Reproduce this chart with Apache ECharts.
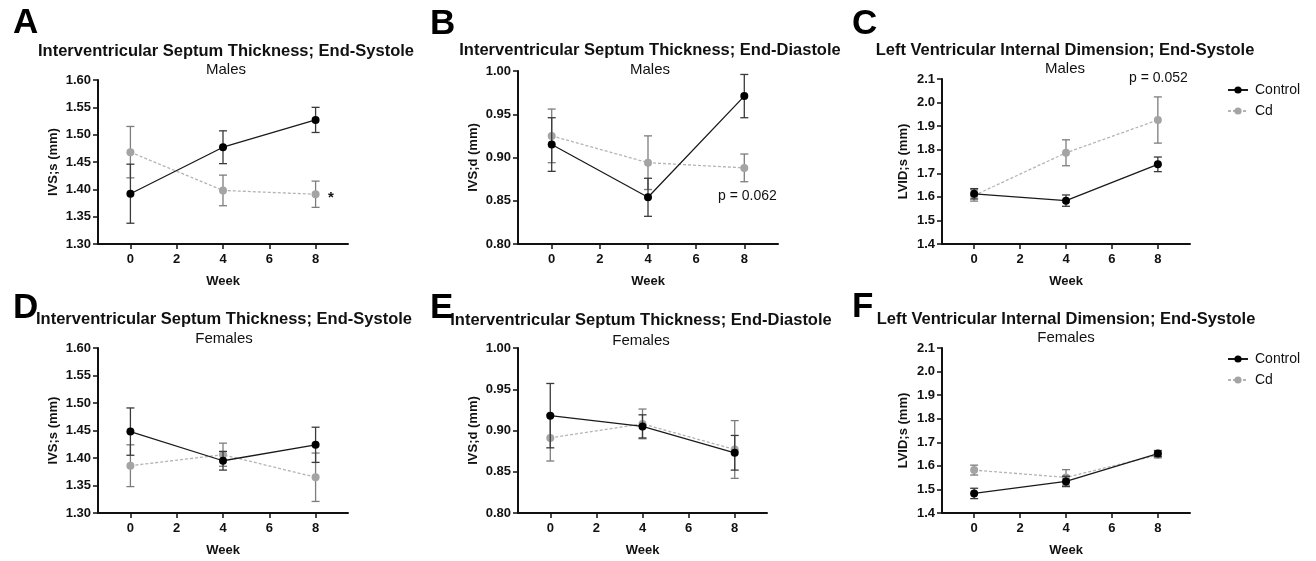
<!DOCTYPE html>
<html>
<head>
<meta charset="utf-8">
<script src="https://cdn.jsdelivr.net/npm/echarts@6/dist/echarts.min.js"></script>
<style>
  html, body { margin: 0; padding: 0; background: #fff; }
  #chart { width: 1316px; height: 561px; }
</style>
</head>
<body>
<div id="chart"></div>
<script>
// x positions (week) shared by every panel
const weeks = [0, 4, 8];
const weekTicks = [0, 2, 4, 6, 8];

// A: IVS;s males
const ctrlA = [1.392, 1.477, 1.527];
const ctrlAErr = [0.054, 0.030, 0.023];
const cdA = [1.468, 1.398, 1.391];
const cdAErr = [0.047, 0.028, 0.024];

// B: IVS;d males
const ctrlB = [0.915, 0.854, 0.971];
const ctrlBErr = [0.031, 0.022, 0.025];
const cdB = [0.925, 0.894, 0.888];
const cdBErr = [0.031, 0.031, 0.016];

// C: LVID;s males
const ctrlC = [1.613, 1.584, 1.738];
const ctrlCErr = [0.022, 0.024, 0.031];
const cdC = [1.606, 1.787, 1.926];
const cdCErr = [0.024, 0.055, 0.098];

// D: IVS;s females
const ctrlD = [1.448, 1.395, 1.424];
const ctrlDErr = [0.043, 0.017, 0.032];
const cdD = [1.386, 1.406, 1.365];
const cdDErr = [0.038, 0.021, 0.044];

// E: IVS;d females
const ctrlE = [0.918, 0.905, 0.873];
const ctrlEErr = [0.039, 0.014, 0.021];
const cdE = [0.891, 0.908, 0.877];
const cdEErr = [0.028, 0.018, 0.035];

// F: LVID;s females
const ctrlF = [1.483, 1.534, 1.652];
const ctrlFErr = [0.022, 0.022, 0.013];
const cdF = [1.582, 1.551, 1.646];
const cdFErr = [0.021, 0.033, 0.012];

const FONT = '"Liberation Sans", Arial, sans-serif';

// panel layout + axis settings
const panels = [
  { letter: 'A', title: 'Interventricular Septum Thickness; End-Systole', sub: 'Males',
    grid: { left: 98, top: 80, width: 250, height: 164 },
    yMin: 1.30, yMax: 1.60, yStep: 0.05, digits: 2, yName: 'IVS;s (mm)', nameGap: 38,
    ctrl: ctrlA, ctrlErr: ctrlAErr, cd: cdA, cdErr: cdAErr,
    letterPos: [13, 23], titleX: 226, titleY: 51, subY: 70 },
  { letter: 'B', title: 'Interventricular Septum Thickness; End-Diastole', sub: 'Males',
    grid: { left: 518, top: 71, width: 260, height: 173 },
    yMin: 0.80, yMax: 1.00, yStep: 0.05, digits: 2, yName: 'IVS;d (mm)', nameGap: 38,
    ctrl: ctrlB, ctrlErr: ctrlBErr, cd: cdB, cdErr: cdBErr,
    letterPos: [430, 24], titleX: 650, titleY: 50, subY: 70 },
  { letter: 'C', title: 'Left Ventricular Internal Dimension; End-Systole', sub: 'Males',
    grid: { left: 942, top: 79, width: 248, height: 165 },
    yMin: 1.4, yMax: 2.1, yStep: 0.1, digits: 1, yName: 'LVID;s (mm)', nameGap: 32,
    ctrl: ctrlC, ctrlErr: ctrlCErr, cd: cdC, cdErr: cdCErr,
    letterPos: [852, 24], titleX: 1065, titleY: 50, subY: 69 },
  { letter: 'D', title: 'Interventricular Septum Thickness; End-Systole', sub: 'Females',
    grid: { left: 98, top: 348, width: 250, height: 165 },
    yMin: 1.30, yMax: 1.60, yStep: 0.05, digits: 2, yName: 'IVS;s (mm)', nameGap: 38,
    ctrl: ctrlD, ctrlErr: ctrlDErr, cd: cdD, cdErr: cdDErr,
    letterPos: [13, 308], titleX: 224, titleY: 319, subY: 339 },
  { letter: 'E', title: 'Interventricular Septum Thickness; End-Diastole', sub: 'Females',
    grid: { left: 518, top: 348, width: 249, height: 165 },
    yMin: 0.80, yMax: 1.00, yStep: 0.05, digits: 2, yName: 'IVS;d (mm)', nameGap: 38,
    ctrl: ctrlE, ctrlErr: ctrlEErr, cd: cdE, cdErr: cdEErr,
    letterPos: [430, 308], titleX: 641, titleY: 320, subY: 341 },
  { letter: 'F', title: 'Left Ventricular Internal Dimension; End-Systole', sub: 'Females',
    grid: { left: 942, top: 348, width: 248, height: 165 },
    yMin: 1.4, yMax: 2.1, yStep: 0.1, digits: 1, yName: 'LVID;s (mm)', nameGap: 32,
    ctrl: ctrlF, ctrlErr: ctrlFErr, cd: cdF, cdErr: cdFErr,
    letterPos: [852, 307], titleX: 1066, titleY: 319, subY: 338 }
];

function errorBars(color) {
  return function (params, api) {
    const x = api.value(0), m = api.value(1), e = api.value(2);
    const top = api.coord([x, m + e]);
    const bot = api.coord([x, m - e]);
    const w = 4;
    const style = { stroke: color, lineWidth: 1.3 };
    return {
      type: 'group',
      children: [
        { type: 'line', shape: { x1: top[0], y1: top[1], x2: bot[0], y2: bot[1] }, style },
        { type: 'line', shape: { x1: top[0] - w, y1: top[1], x2: top[0] + w, y2: top[1] }, style },
        { type: 'line', shape: { x1: bot[0] - w, y1: bot[1], x2: bot[0] + w, y2: bot[1] }, style }
      ]
    };
  };
}

const grids = [], xAxes = [], yAxes = [], series = [], graphics = [];

panels.forEach((p, i) => {
  grids.push(p.grid);

  xAxes.push({
    gridIndex: i, type: 'value', min: -1.4, max: 9.4,
    name: 'Week', nameLocation: 'middle', nameGap: 31,
    nameTextStyle: { fontFamily: FONT, fontWeight: 'bold', fontSize: 13, color: '#111' },
    axisLine: { show: true, onZero: false, lineStyle: { color: '#111', width: 2 } },
    axisTick: { show: true, length: 5, customValues: weekTicks, lineStyle: { color: '#111', width: 1.5 } },
    axisLabel: { customValues: weekTicks, fontFamily: FONT, fontWeight: 'bold', fontSize: 13, color: '#111', margin: 9 },
    splitLine: { show: false }
  });

  yAxes.push({
    gridIndex: i, type: 'value', min: p.yMin, max: p.yMax, interval: p.yStep,
    name: p.yName, nameLocation: 'middle', nameGap: p.nameGap,
    nameTextStyle: { fontFamily: FONT, fontWeight: 'bold', fontSize: 13, color: '#111' },
    axisLine: { show: true, onZero: false, lineStyle: { color: '#111', width: 2 } },
    axisTick: { show: true, length: 5, lineStyle: { color: '#111', width: 1.5 } },
    axisLabel: { fontFamily: FONT, fontWeight: 'bold', fontSize: 13, color: '#111', margin: 7,
      formatter: v => v.toFixed(p.digits) },
    splitLine: { show: false }
  });

  series.push({
    type: 'custom', xAxisIndex: i, yAxisIndex: i, z: 2, clip: false,
    renderItem: errorBars('#7d7d7d'),
    encode: { x: 0, y: 1 },
    data: weeks.map((w, j) => [w, p.cd[j], p.cdErr[j]])
  });
  series.push({
    name: 'Cd', type: 'line', xAxisIndex: i, yAxisIndex: i, z: 3,
    symbol: 'circle', symbolSize: 8,
    lineStyle: { color: '#b4b4b4', width: 1.3, type: [3, 2] },
    itemStyle: { color: '#a4a4a4' },
    data: weeks.map((w, j) => [w, p.cd[j]])
  });
  series.push({
    type: 'custom', xAxisIndex: i, yAxisIndex: i, z: 4, clip: false,
    renderItem: errorBars('#3a3a3a'),
    encode: { x: 0, y: 1 },
    data: weeks.map((w, j) => [w, p.ctrl[j], p.ctrlErr[j]])
  });
  series.push({
    name: 'Control', type: 'line', xAxisIndex: i, yAxisIndex: i, z: 5,
    symbol: 'circle', symbolSize: 8,
    lineStyle: { color: '#1a1a1a', width: 1.3 },
    itemStyle: { color: '#000' },
    data: weeks.map((w, j) => [w, p.ctrl[j]])
  });

  graphics.push({
    type: 'text', x: p.letterPos[0], y: p.letterPos[1],
    style: { text: p.letter, font: 'bold 35px ' + FONT, fill: '#000', verticalAlign: 'middle', align: 'left' }
  });
  graphics.push({
    type: 'text', x: p.titleX, y: p.titleY,
    style: { text: p.title, font: 'bold 16.5px ' + FONT, fill: '#111', align: 'center', verticalAlign: 'middle' }
  });
  graphics.push({
    type: 'text', x: p.titleX, y: p.subY,
    style: { text: p.sub, font: '15px ' + FONT, fill: '#111', align: 'center', verticalAlign: 'middle' }
  });
});

// significance annotations
graphics.push({ type: 'text', x: 331, y: 198,
  style: { text: '*', font: 'bold 15px ' + FONT, fill: '#111', align: 'center', verticalAlign: 'middle' } });
graphics.push({ type: 'text', x: 718, y: 196,
  style: { text: 'p = 0.062', font: '14px ' + FONT, fill: '#111', align: 'left', verticalAlign: 'middle' } });
graphics.push({ type: 'text', x: 1129, y: 78,
  style: { text: 'p = 0.052', font: '14px ' + FONT, fill: '#111', align: 'left', verticalAlign: 'middle' } });

const legendBase = {
  orient: 'vertical', left: 1222, itemWidth: 20, itemHeight: 9, itemGap: 7,
  data: ['Control', 'Cd'],
  textStyle: { fontFamily: FONT, fontSize: 14, color: '#111', padding: [0, 0, 0, 2] }
};

const chart = echarts.init(document.getElementById('chart'));
chart.setOption({
  animation: false,
  backgroundColor: '#fff',
  legend: [
    Object.assign({}, legendBase, { top: 78 }),
    Object.assign({}, legendBase, { top: 347 })
  ],
  grid: grids,
  xAxis: xAxes,
  yAxis: yAxes,
  series: series,
  graphic: graphics
});
</script>
</body>
</html>
